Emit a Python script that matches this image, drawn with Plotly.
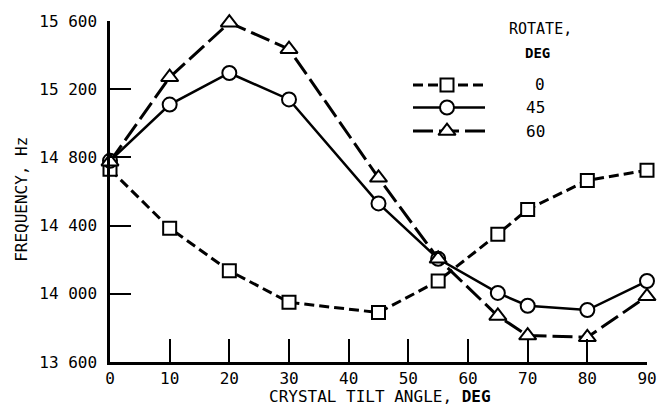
import plotly.graph_objects as go

# Crystal tilt angle, deg
tilt = [0, 10, 20, 30, 45, 55, 65, 70, 80, 90]

# Frequency, Hz, for each rotation angle
freq_rot0 = [14730, 14385, 14135, 13950, 13890, 14075, 14350, 14495, 14665, 14725]
freq_rot45 = [14780, 15110, 15295, 15140, 14530, 14205, 14005, 13930, 13905, 14075]
freq_rot60 = [14775, 15270, 15590, 15435, 14680, 14205, 13870, 13755, 13745, 13985]

rotations = ["0", "45", "60"]

y_ticks = [13600, 14000, 14400, 14800, 15200, 15600]
y_tick_text = ["13 600", "14 000", "14 400", "14 800", "15 200", "15 600"]
x_ticks = [0, 10, 20, 30, 40, 50, 60, 70, 80, 90]

FONT = "DejaVu Sans Mono"
INK = "black"

# Plot area in page pixels
L, R, T, B = 110, 647, 15, 362


def px_to_paper(px, py):
    return (px - L) / (R - L), (B - py) / (B - T)


styles = [
    dict(dash="10px,5px", symbol="square", size=13, width=3),
    dict(dash="solid", symbol="circle", size=14, width=2.5),
    dict(dash="20px,6px", symbol="triangle-up", size=15, width=3),
]
series = [freq_rot0, freq_rot45, freq_rot60]

fig = go.Figure()

for vals, st, name in zip(series, styles, rotations):
    fig.add_trace(go.Scatter(
        x=tilt, y=vals, mode="lines+markers", name=name,
        line=dict(color=INK, width=st["width"], dash=st["dash"]),
        marker=dict(symbol=st["symbol"], size=st["size"], color="white",
                    line=dict(color=INK, width=2)),
        cliponaxis=False, showlegend=False,
    ))

# Key drawn on an overlay axis measured in page pixels
key_x0, key_xm, key_x1 = 413, 447, 485
key_rows = [80, 103, 127]
for st, yk, name in zip(styles, key_rows, rotations):
    fig.add_trace(go.Scatter(
        x=[key_x0, key_x1], y=[yk, yk], mode="lines", xaxis="x2", yaxis="y2",
        line=dict(color=INK, width=st["width"], dash=st["dash"]),
        showlegend=False, hoverinfo="skip", cliponaxis=False,
    ))
    fig.add_trace(go.Scatter(
        x=[key_xm], y=[yk], mode="markers", xaxis="x2", yaxis="y2",
        marker=dict(symbol=st["symbol"], size=st["size"], color="white",
                    line=dict(color=INK, width=2)),
        showlegend=False, hoverinfo="skip", cliponaxis=False,
    ))
    fig.add_annotation(x=547, y=yk, xref="x2", yref="y2", text=name,
                       showarrow=False, xanchor="right", yanchor="middle",
                       font=dict(family=FONT, size=16, color=INK))

fig.add_annotation(x=540, y=23, xref="x2", yref="y2", text="ROTATE,",
                   showarrow=False, xanchor="center", yanchor="middle",
                   font=dict(family=FONT, size=15, color=INK))
fig.add_annotation(x=537, y=48, xref="x2", yref="y2", text="<b>DEG</b>",
                   showarrow=False, xanchor="center", yanchor="middle",
                   font=dict(family=FONT, size=14, color=INK))

# Axis titles
tx, ty = px_to_paper(380, 397)
fig.add_annotation(x=tx, y=ty, xref="paper", yref="paper",
                   text="CRYSTAL TILT ANGLE, <b>DEG</b>", showarrow=False,
                   xanchor="center", yanchor="middle",
                   font=dict(family=FONT, size=16, color=INK))
tx, ty = px_to_paper(22, 197)
fig.add_annotation(x=tx, y=ty, xref="paper", yref="paper",
                   text="FREQUENCY, Hz", showarrow=False, textangle=-90,
                   xanchor="center", yanchor="middle",
                   font=dict(family=FONT, size=16, color=INK))

fig.update_layout(
    width=669, height=408,
    margin=dict(l=L, r=669 - R, t=T, b=408 - B),
    paper_bgcolor="white", plot_bgcolor="white",
    font=dict(family=FONT, size=16, color=INK),
    xaxis=dict(
        range=[0, 90], tickvals=x_ticks, ticks="inside", ticklen=23,
        tickwidth=2, tickcolor=INK, showline=True, linewidth=2.5,
        linecolor=INK, showgrid=False, zeroline=False, mirror=False,
        ticklabelstandoff=0,
    ),
    yaxis=dict(
        range=[13600, 15600], tickvals=y_ticks, ticktext=y_tick_text,
        ticks="inside", ticklen=21, tickwidth=2, tickcolor=INK,
        showline=True, linewidth=2.5, linecolor=INK, showgrid=False,
        zeroline=False, mirror=False, ticklabelstandoff=7,
    ),
    xaxis2=dict(range=[L, R], overlaying="x", visible=False,
                fixedrange=True),
    yaxis2=dict(range=[B, T], overlaying="y", visible=False,
                fixedrange=True),
)

fig.write_html("out.html")
